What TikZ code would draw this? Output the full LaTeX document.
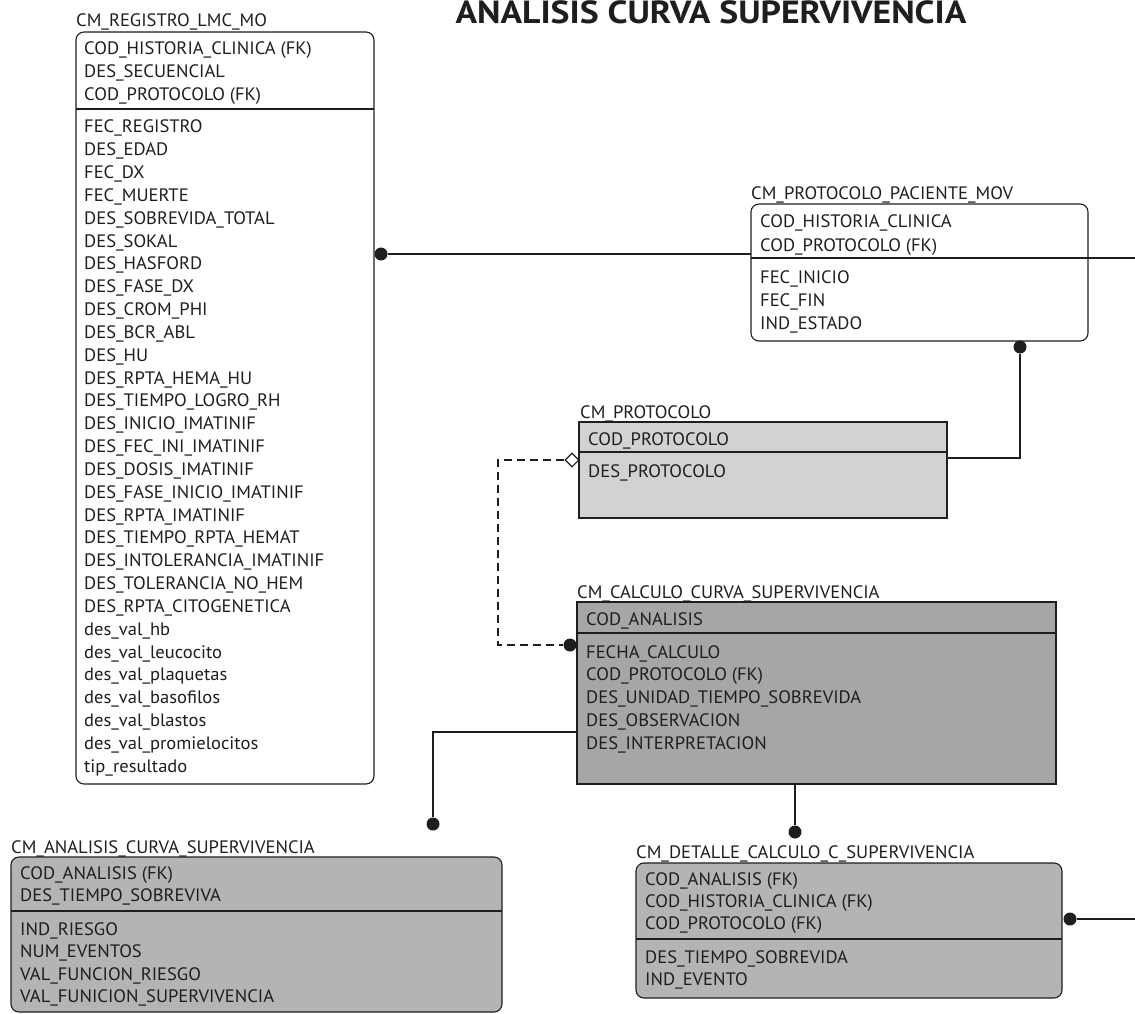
\documentclass[tikz,border=0pt]{standalone}
\usepackage{fontspec}
\setmainfont{PT Sans}[FakeStretch=1.03]
\newfontfamily\ttlfont{PT Sans}[FakeStretch=1.115]
\usetikzlibrary{shapes.geometric}
\definecolor{ink}{HTML}{1E1E1E}
\definecolor{grayA}{HTML}{D2D2D2}
\definecolor{grayB}{HTML}{A6A6A6}
\definecolor{grayC}{HTML}{B4B4B4}
\tikzset{
  tbl/.style={draw=ink, line width=1.1pt, inner sep=0pt, outer sep=0pt, anchor=north west},
  rtbl/.style={tbl, rounded corners=8pt},
  sepline/.style={draw=ink, line width=1.1pt},
  lbl/.style={anchor=base west, inner sep=0pt, text=ink, font=\fontsize{18}{18}\selectfont},
  row/.style={anchor=base west, inner sep=0pt, text=ink, font=\fontsize{18}{18}\selectfont},
  conn/.style={draw=ink, line width=1.1pt},
  dconn/.style={conn, dash pattern=on 8pt off 5pt},
  dotc/.style={circle, fill=ink, inner sep=0pt, minimum size=13pt},
  dia/.style={diamond, draw=ink, fill=white, line width=1.1pt, inner sep=0pt, minimum width=14pt, minimum height=14pt},
  ttl/.style={anchor=base, inner sep=0pt, text=ink, font=\ttlfont\fontsize{32}{32}\selectfont\bfseries}
}
\begin{document}
\begin{tikzpicture}[x=1pt, y=-1pt]
\useasboundingbox (0,0) rectangle (1135,1014);
% title
\node[ttl] (title) at (711,23.5) {ANALISIS CURVA SUPERVIVENCIA};

% ---------- CM_REGISTRO_LMC_MO
\node[rtbl, fill=white, minimum width=298pt, minimum height=752pt] (reg) at (76,32) {};
\draw[sepline] (reg.west |- 0,109) -- (reg.east |- 0,109);
\node[lbl] (regL) at (76,27) {CM\_REGISTRO\_LMC\_MO};
\foreach \t [count=\i from 0] in {COD\_HISTORIA\_CLINICA (FK),DES\_SECUENCIAL,COD\_PROTOCOLO (FK)}
  \node[row] (regk\i) at (84,55+23*\i) {\t};
\foreach \t [count=\i from 0] in {FEC\_REGISTRO,DES\_EDAD,FEC\_DX,FEC\_MUERTE,DES\_SOBREVIDA\_TOTAL,DES\_SOKAL,DES\_HASFORD,DES\_FASE\_DX,DES\_CROM\_PHI,DES\_BCR\_ABL,DES\_HU,DES\_RPTA\_HEMA\_HU,DES\_TIEMPO\_LOGRO\_RH,DES\_INICIO\_IMATINIF,DES\_FEC\_INI\_IMATINIF,DES\_DOSIS\_IMATINIF,DES\_FASE\_INICIO\_IMATINIF,DES\_RPTA\_IMATINIF,DES\_TIEMPO\_RPTA\_HEMAT,DES\_INTOLERANCIA\_IMATINIF,DES\_TOLERANCIA\_NO\_HEM,DES\_RPTA\_CITOGENETICA,des\_val\_hb,des\_val\_leucocito,des\_val\_plaquetas,des\_val\_basofilos,des\_val\_blastos,des\_val\_promielocitos,tip\_resultado}
  \node[row] (regr\i) at (84,133+22.83*\i) {\t};

% ---------- CM_PROTOCOLO_PACIENTE_MOV
\node[rtbl, fill=white, minimum width=337pt, minimum height=137pt] (pac) at (751,204) {};
\draw[sepline] (pac.west |- 0,258) -- (pac.east |- 0,258);
\node[lbl] (pacL) at (751,199) {CM\_PROTOCOLO\_PACIENTE\_MOV};
\foreach \t [count=\i from 0] in {COD\_HISTORIA\_CLINICA,COD\_PROTOCOLO (FK)}
  \node[row] (pack\i) at (760,227+24*\i) {\t};
\foreach \t [count=\i from 0] in {FEC\_INICIO,FEC\_FIN,IND\_ESTADO}
  \node[row] (pacr\i) at (760,283+23*\i) {\t};

% ---------- CM_PROTOCOLO
\node[tbl, fill=grayA, minimum width=368pt, minimum height=96pt] (prot) at (579,422) {};
\draw[sepline] (prot.west |- 0,452) -- (prot.east |- 0,452);
\node[lbl] (protL) at (580,418) {CM\_PROTOCOLO};
\node[row] (protk0) at (588,445) {COD\_PROTOCOLO};
\node[row] (protr0) at (588,477) {DES\_PROTOCOLO};

% ---------- CM_CALCULO_CURVA_SUPERVIVENCIA
\node[tbl, fill=grayB, minimum width=479pt, minimum height=182pt] (calc) at (577,602) {};
\draw[sepline] (calc.west |- 0,633) -- (calc.east |- 0,633);
\node[lbl] (calcL) at (577,598) {CM\_CALCULO\_CURVA\_SUPERVIVENCIA};
\node[row] (calck0) at (586,625) {COD\_ANALISIS};
\foreach \t [count=\i from 0] in {FECHA\_CALCULO,COD\_PROTOCOLO (FK),DES\_UNIDAD\_TIEMPO\_SOBREVIDA,DES\_OBSERVACION,DES\_INTERPRETACION}
  \node[row] (calcr\i) at (586,658+22.8*\i) {\t};

% ---------- CM_ANALISIS_CURVA_SUPERVIVENCIA
\node[rtbl, fill=grayC, minimum width=491pt, minimum height=155pt] (ana) at (11,857) {};
\draw[sepline] (ana.west |- 0,911) -- (ana.east |- 0,911);
\node[lbl] (anaL) at (11,853) {CM\_ANALISIS\_CURVA\_SUPERVIVENCIA};
\foreach \t [count=\i from 0] in {COD\_ANALISIS (FK),DES\_TIEMPO\_SOBREVIVA}
  \node[row] (anak\i) at (20,879+22.5*\i) {\t};
\foreach \t [count=\i from 0] in {IND\_RIESGO,NUM\_EVENTOS,VAL\_FUNCION\_RIESGO,VAL\_FUNICION\_SUPERVIVENCIA}
  \node[row] (anar\i) at (20,935+22.5*\i) {\t};

% ---------- CM_DETALLE_CALCULO_C_SUPERVIVENCIA
\node[rtbl, fill=grayC, minimum width=426pt, minimum height=135pt] (det) at (636,863) {};
\draw[sepline] (det.west |- 0,939) -- (det.east |- 0,939);
\node[lbl] (detL) at (636,858) {CM\_DETALLE\_CALCULO\_C\_SUPERVIVENCIA};
\foreach \t [count=\i from 0] in {COD\_ANALISIS (FK),COD\_HISTORIA\_CLINICA (FK),COD\_PROTOCOLO (FK)}
  \node[row] (detk\i) at (645,885+22*\i) {\t};
\foreach \t [count=\i from 0] in {DES\_TIEMPO\_SOBREVIDA,IND\_EVENTO}
  \node[row] (detr\i) at (645,963+22*\i) {\t};

% ---------- connectors
% registro -- paciente_mov
\node[dotc] (d1) at (381,254) {};
\draw[conn] (d1) -- (pac.west |- d1);
% paciente_mov -> off page right
\coordinate (e1) at (1135,258);
\draw[conn] (pac.east |- e1) -- (e1);
% paciente_mov -- protocolo
\node[dotc] (d2) at (1020,347) {};
\coordinate (b2) at (1020,458);
\draw[conn] (d2) -- (b2) -- (prot.east |- b2);
% protocolo -- calculo (dashed)
\node[dia] (dm) at (572,460) {};
\node[dotc] (d3) at (570,645) {};
\coordinate (b3a) at (498,460);
\coordinate (b3b) at (498,645);
\draw[dconn] (dm.west) -- (b3a) -- (b3b) -- (d3);
% calculo -- analisis
\node[dotc] (d4) at (433,824) {};
\coordinate (b4) at (433,732);
\draw[conn] (calc.west |- b4) -- (b4) -- (d4);
% calculo -- detalle
\node[dotc] (d5) at (795,832) {};
\draw[conn] (calc.south -| d5) -- (d5);
% detalle -> off page right
\node[dotc] (d6) at (1070,919) {};
\coordinate (e6) at (1135,919);
\draw[conn] (d6) -- (e6);
\end{tikzpicture}
\end{document}
